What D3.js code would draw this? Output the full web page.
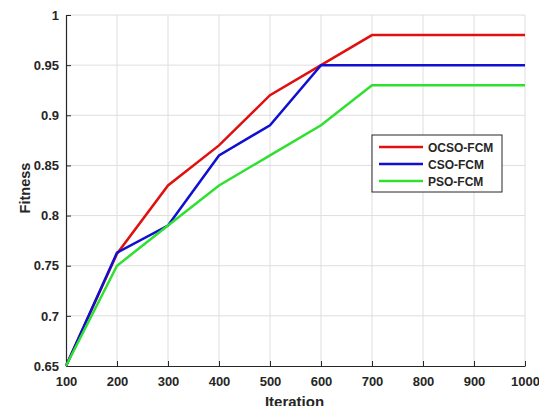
<!DOCTYPE html>
<html>
<head>
<meta charset="utf-8">
<script src="https://cdn.jsdelivr.net/npm/d3@7"></script>
<style>
  body { margin: 0; background: #fff; }
  text { font-family: Arial, "Liberation Sans", sans-serif; font-weight: bold; fill: #262626; }
</style>
</head>
<body>
<div class="chart"></div>
<script>
var iterations = [100, 200, 300, 400, 500, 600, 700, 800, 900, 1000];
var ocso = [0.65, 0.762, 0.83, 0.87, 0.92, 0.95, 0.98, 0.98, 0.98, 0.98];
var cso  = [0.65, 0.763, 0.79, 0.86, 0.89, 0.95, 0.95, 0.95, 0.95, 0.95];
var pso  = [0.65, 0.75, 0.79, 0.83, 0.86, 0.89, 0.93, 0.93, 0.93, 0.93];
var seriesNames = ['OCSO-FCM', 'CSO-FCM', 'PSO-FCM'];
var seriesColors = ['#e01010', '#1010d0', '#30e030'];
var yTicks = [0.65, 0.7, 0.75, 0.8, 0.85, 0.9, 0.95, 1];

var size = { width: 539, height: 406 };
var m = { left: 66, right: 14, top: 15, bottom: 40 };
var w = size.width - m.left - m.right;
var h = size.height - m.top - m.bottom;

var svg = d3.select('.chart').append('svg')
  .attr('width', size.width)
  .attr('height', size.height);

var g = svg.append('g').attr('transform', 'translate(' + m.left + ',' + m.top + ')');

var x = d3.scaleLinear().domain([100, 1000]).range([0, w]);
var y = d3.scaleLinear().domain([0.65, 1]).range([h, 0]);

// grid
g.append('g').selectAll('line').data(iterations.slice(1)).enter().append('line')
  .attr('x1', function(d){ return x(d); }).attr('x2', function(d){ return x(d); })
  .attr('y1', 0).attr('y2', h)
  .attr('stroke', '#dedede').attr('stroke-width', 1);
g.append('g').selectAll('line').data(yTicks.slice(1)).enter().append('line')
  .attr('x1', 0).attr('x2', w)
  .attr('y1', function(d){ return y(d); }).attr('y2', function(d){ return y(d); })
  .attr('stroke', '#dedede').attr('stroke-width', 1);

// axes (ticks point inward like matlab)
var xAxis = g.append('g').attr('transform', 'translate(0,' + h + ')')
  .call(d3.axisBottom(x).tickValues(iterations).tickFormat(d3.format('d'))
    .tickSizeInner(-5).tickSizeOuter(0).tickPadding(11));
var yAxis = g.append('g')
  .call(d3.axisLeft(y).tickValues(yTicks).tickFormat(function(d){ return String(+d.toFixed(2)); })
    .tickSizeInner(-5).tickSizeOuter(0).tickPadding(7));
[xAxis, yAxis].forEach(function(a){
  a.select('.domain').attr('stroke', '#262626').attr('stroke-width', 1.2);
  a.selectAll('.tick line').attr('stroke', '#262626');
  a.selectAll('text').attr('font-size', 13).attr('font-family', 'Arial, "Liberation Sans", sans-serif')
    .attr('font-weight', 'bold').attr('fill', '#262626');
});

// lines
var line = d3.line()
  .x(function(d, i){ return x(iterations[i]); })
  .y(function(d){ return y(d); });
[ocso, cso, pso].forEach(function(s, k){
  g.append('path').datum(s)
    .attr('d', line)
    .attr('fill', 'none')
    .attr('stroke', seriesColors[k])
    .attr('stroke-width', 2.5);
});

// labels
svg.append('text')
  .attr('x', m.left + w / 2 - 1).attr('y', 407)
  .attr('text-anchor', 'middle').attr('font-size', 15)
  .text('Iteration');
svg.append('text')
  .attr('transform', 'translate(30,188) rotate(-90)')
  .attr('text-anchor', 'middle').attr('font-size', 14.5)
  .text('Fitness');

// legend
var lg = svg.append('g').attr('transform', 'translate(372,135)');
lg.append('rect').attr('width', 130).attr('height', 57)
  .attr('fill', '#fff').attr('stroke', '#262626').attr('stroke-width', 1);
seriesNames.forEach(function(n, k){
  var yy = 12 + k * 17;
  lg.append('line').attr('x1', 7).attr('x2', 51).attr('y1', yy).attr('y2', yy)
    .attr('stroke', seriesColors[k]).attr('stroke-width', 2.5);
  lg.append('text').attr('x', 56).attr('y', yy + 4.5).attr('font-size', 12).text(n);
});
</script>
</body>
</html>
